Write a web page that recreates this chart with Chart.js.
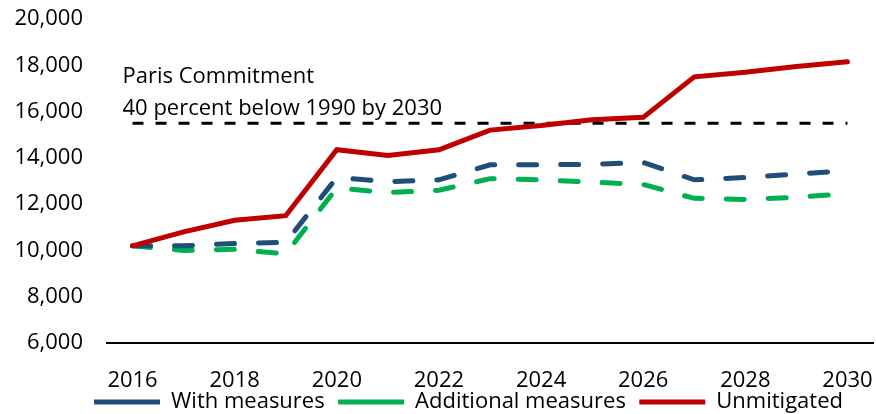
<!DOCTYPE html>
<html>
<head>
<meta charset="utf-8">
<script src="https://cdn.jsdelivr.net/npm/chart.js@4.4.1/dist/chart.umd.min.js"></script>
<style>
  html, body { margin: 0; padding: 0; background: #ffffff; }
  #wrap { width: 876px; height: 414px; position: relative; }
</style>
</head>
<body>
<div id="wrap"><canvas id="c" width="876" height="414"></canvas></div>
<script>
const years = ['2016','2017','2018','2019','2020','2021','2022','2023','2024','2025','2026','2027','2028','2029','2030'];
const withMeasures = [10200,10200,10300,10350,13150,12970,13050,13700,13700,13720,13800,13050,13150,13300,13450];
const additionalMeasures = [10200,10000,10050,9850,12700,12500,12600,13100,13050,12950,12850,12250,12200,12300,12450];
const unmitigated = [10200,10800,11300,11500,14350,14100,14350,15200,15400,15650,15750,17500,17700,17950,18150];
const parisCommitment = [15500,15500,15500,15500,15500,15500,15500,15500,15500,15500,15500,15500,15500,15500,15500];
const seriesNames = ['With measures','Additional measures','Unmitigated','Paris Commitment'];
const annotationLines = ['Paris Commitment','40 percent below 1990 by 2030'];
const yTicks = [6000, 8000, 10000, 12000, 14000, 16000, 18000, 20000];

const FONT = '"Open Sans", "Noto Sans", sans-serif';
const FS = 22;

const annotationPlugin = {
  id: 'parisText',
  afterDatasetsDraw(chart) {
    const ctx = chart.ctx;
    const x = chart.scales.x.getPixelForValue(0) - 10;
    const yBase = chart.scales.y.getPixelForValue(15500);
    ctx.save();
    ctx.font = FS + 'px ' + FONT;
    ctx.fillStyle = '#000000';
    ctx.textAlign = 'left';
    ctx.textBaseline = 'middle';
    ctx.fillText(annotationLines[0], x, yBase - 46);
    ctx.fillText(annotationLines[1], x, yBase - 14);
    ctx.restore();
  }
};

const layoutTweak = {
  id: 'layoutTweak',
  afterLayout(chart) {
    const lg = chart.legend;
    if (lg) { lg.left += 32; lg.right += 32; lg.top += 9; lg.bottom += 9; }
    // let the x tick labels draw past the (shortened) axis box without being clipped
    chart.scales.x.bottom = chart.height;
  }
};

new Chart(document.getElementById('c'), {
  type: 'line',
  data: {
    labels: years,
    datasets: [
      { label: seriesNames[0], data: withMeasures, borderColor: '#1F4E79', backgroundColor: '#1F4E79',
        borderWidth: 5, borderDash: [18, 24], borderCapStyle: 'round', pointRadius: 0, tension: 0, order: 2 },
      { label: seriesNames[1], data: additionalMeasures, borderColor: '#00B050', backgroundColor: '#00B050',
        borderWidth: 5, borderDash: [18, 24], borderCapStyle: 'round', pointRadius: 0, tension: 0, order: 3 },
      { label: seriesNames[2], data: unmitigated, borderColor: '#C00000', backgroundColor: '#C00000',
        borderWidth: 5, borderCapStyle: 'round', pointRadius: 0, tension: 0, order: 1 },
      { label: seriesNames[3], data: parisCommitment, borderColor: '#000000', backgroundColor: '#000000',
        borderWidth: 3, borderDash: [11, 12], pointRadius: 0, tension: 0, order: 4 }
    ]
  },
  options: {
    responsive: false,
    animation: false,
    devicePixelRatio: 1,
    layout: { padding: { top: 19, right: 3, left: 0, bottom: 0 } },
    plugins: {
      tooltip: { enabled: false },
      legend: {
        position: 'bottom',
        labels: {
          filter: (item) => item.datasetIndex !== 3,
          sort: (a, b) => a.datasetIndex - b.datasetIndex,
          generateLabels: (chart) => {
            const items = Chart.defaults.plugins.legend.labels.generateLabels(chart);
            items.forEach((it) => { if (it.datasetIndex < 2) it.text = it.text + '  '; });
            return items;
          },
          usePointStyle: true,
          pointStyle: 'line',
          pointStyleWidth: 66,
          boxHeight: 20,
          padding: 2,
          color: '#000000',
          font: { family: FONT, size: FS }
        }
      }
    },
    scales: {
      x: {
        offset: true,
        afterFit: (s) => { s.paddingRight = 0; s.paddingLeft = 0; s.height = 37; },
        grid: { display: false, drawTicks: false },
        border: { display: true, color: '#000000', width: 2 },
        ticks: {
          autoSkip: false, maxRotation: 0, padding: 25, color: '#000000',
          font: { family: FONT, size: FS },
          callback: function(v, i) { return i % 2 === 0 ? years[i] : ''; }
        }
      },
      y: {
        min: 6000, max: 20000,
        afterFit: (s) => { s.width = 107; s.paddingTop = 0; s.paddingBottom = 0; },
        afterBuildTicks: (s) => { s.ticks = yTicks.map(v => ({ value: v })); },
        grid: { display: false, drawTicks: false },
        border: { display: false },
        ticks: {
          padding: 24, color: '#000000',
          font: { family: FONT, size: FS },
          callback: (v) => v.toLocaleString('en-US')
        }
      }
    }
  },
  plugins: [annotationPlugin, layoutTweak]
});
</script>
</body>
</html>
